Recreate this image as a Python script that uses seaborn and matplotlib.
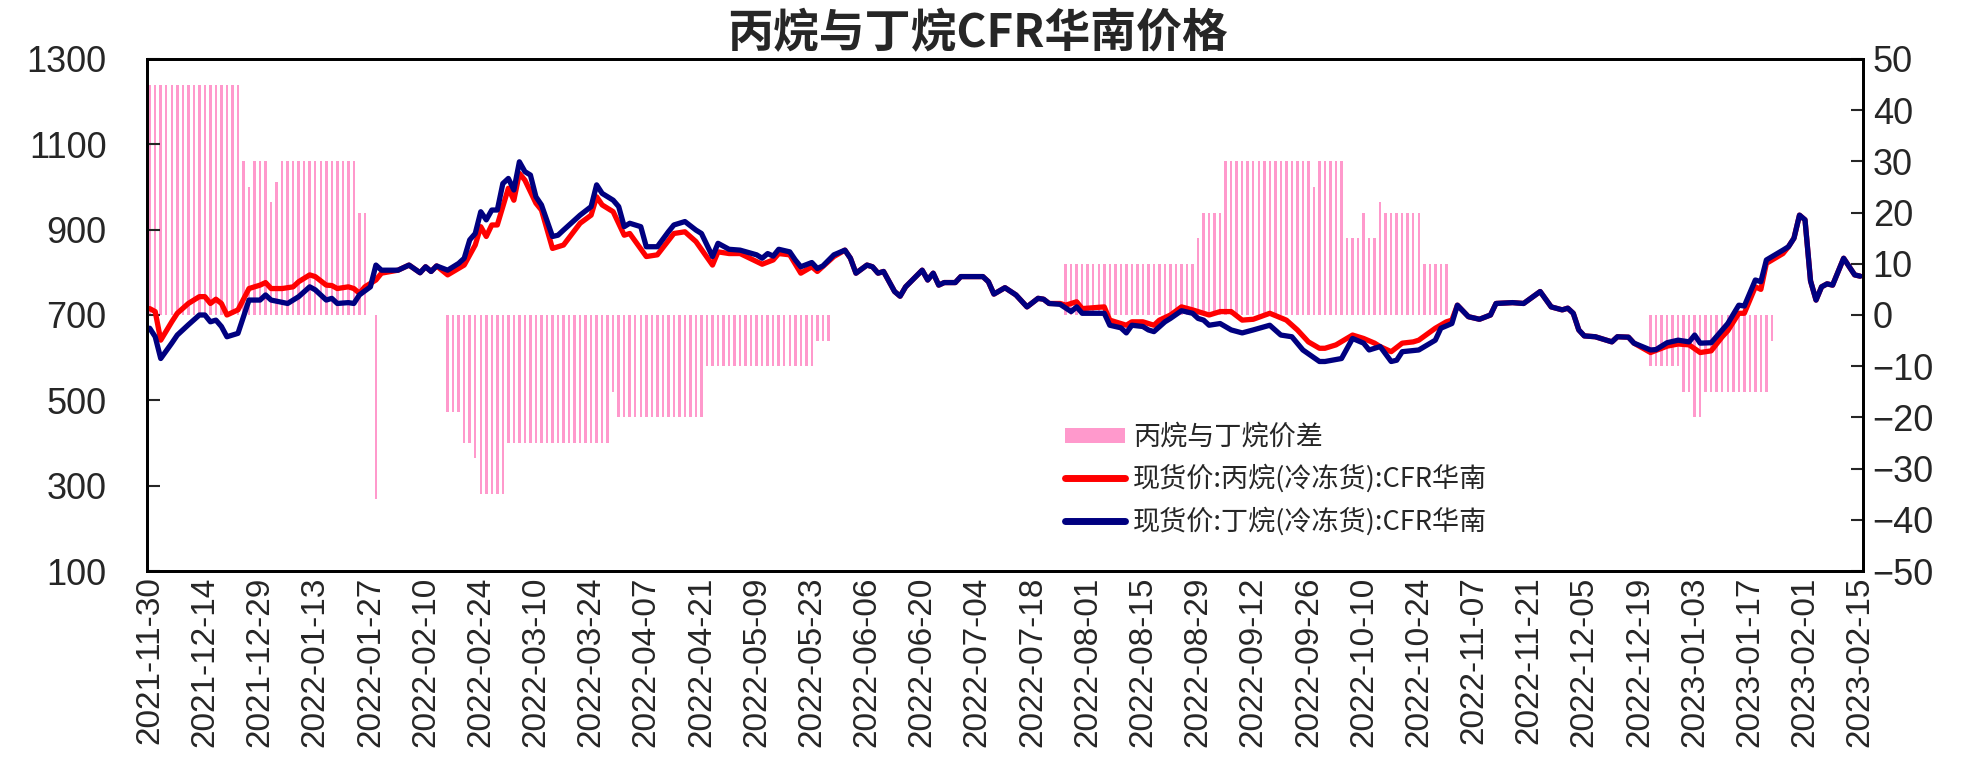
import numpy as np
import pandas as pd
import matplotlib.pyplot as plt
import seaborn as sns
from matplotlib.patches import Patch
from matplotlib.lines import Line2D

# x axis = trading day number (0 = 2021-11-30, 310 = 2023-02-15), one label every 10 days
tick_labels = ['2021-11-30', '2021-12-14', '2021-12-29', '2022-01-13', '2022-01-27',
               '2022-02-10', '2022-02-24', '2022-03-10', '2022-03-24', '2022-04-07',
               '2022-04-21', '2022-05-09', '2022-05-23', '2022-06-06', '2022-06-20',
               '2022-07-04', '2022-07-18', '2022-08-01', '2022-08-15', '2022-08-29',
               '2022-09-12', '2022-09-26', '2022-10-10', '2022-10-24', '2022-11-07',
               '2022-11-21', '2022-12-05', '2022-12-19', '2023-01-03', '2023-01-17',
               '2023-02-01', '2023-02-15']

# spread (propane - butane), right axis: level and number of trading days it holds
spread_level = [45, 30, 25, 30, 22, 26, 30, 20, 0, -36, 0, -19, -25, -28, -35, -25, -15, -20,
                -10, -5, 0, 10, 15, 20, 30, 25, 30, 15, 20, 15, 22, 20, 10, 0, -10, -15, -20,
                -15, -5, 0]
spread_days = [17, 1, 1, 3, 1, 1, 14, 2, 1, 1, 12, 3, 2, 1, 5, 19, 1, 16,
               20, 3, 42, 24, 1, 4, 16, 1, 5, 3, 1, 2, 1, 7, 5, 36, 6, 2, 2,
               12, 1, 16]

# butane CFR South China (left axis)
c4_day = [0, 1, 2, 4, 5, 7, 9, 10, 11, 12, 13, 14, 16, 18, 20, 21, 22, 25, 27, 29, 30, 32, 33,
          34, 36, 37, 38, 40, 41, 42, 45, 47, 49, 50, 51, 52, 54, 56, 57, 58, 59, 60, 61, 62,
          63, 64, 65, 66, 67, 68, 69, 70, 71, 73, 74, 75, 78, 80, 81, 82, 84, 85, 86, 87, 89,
          90, 92, 94, 95, 97, 99, 100, 102, 103, 105, 107, 110, 111, 112, 113, 114, 116, 117,
          118, 120, 121, 122, 124, 126, 127, 128, 130, 131, 132, 133, 135, 136, 137, 140, 141,
          142, 143, 144, 146, 147, 151, 152, 153, 155, 157, 159, 161, 162, 163, 165, 167, 168,
          169, 173, 174, 176, 177, 178, 180, 181, 182, 184, 185, 187, 189, 190, 191, 192, 194,
          196, 198, 200, 203, 205, 207, 209, 212, 213, 216, 218, 220, 221, 223, 225, 226, 227,
          230, 233, 234, 236, 237, 239, 241, 243, 244, 247, 249, 252, 254, 256, 257, 258, 259,
          260, 262, 265, 266, 268, 269, 272, 273, 275, 277, 279, 280, 281, 283, 285, 286, 288,
          289, 291, 292, 293, 296, 297, 298, 299, 300, 301, 302, 303, 304, 305, 307, 309, 310]
c4_price = [669, 649, 598, 634, 653, 677, 700, 700, 684, 688, 673, 649, 657, 735, 735, 747, 735,
            727, 743, 766, 759, 735, 739, 727, 729, 727, 747, 766, 817, 805, 805, 817, 799, 813,
            802, 815, 805, 821, 833, 876, 891, 942, 923, 946, 946, 1008, 1020, 993, 1059, 1036,
            1028, 977, 958, 884, 887, 899, 934, 954, 1005, 985, 969, 954, 907, 915, 907, 860,
            860, 895, 911, 919, 899, 891, 837, 868, 854, 852, 841, 833, 844, 838, 854, 848, 829,
            813, 823, 809, 815, 841, 852, 833, 798, 817, 813, 798, 802, 755, 744, 766, 805, 782,
            798, 770, 776, 776, 790, 790, 778, 749, 764, 747, 719, 739, 737, 727, 725, 708, 719,
            704, 704, 676, 670, 658, 676, 673, 665, 661, 684, 692, 710, 704, 692, 688, 676, 680,
            665, 658, 665, 676, 653, 649, 618, 591, 591, 598, 645, 634, 618, 626, 591, 594, 614,
            618, 641, 669, 680, 723, 696, 690, 700, 727, 729, 727, 755, 719, 712, 716, 704, 665,
            651, 649, 637, 649, 648, 634, 618, 619, 635, 641, 637, 653, 634, 635, 665, 680, 723,
            721, 782, 778, 829, 852, 860, 880, 934, 923, 780, 735, 766, 773, 770, 833, 794, 791]

# propane CFR South China (left axis)
c3_day = [0, 1, 2, 4, 5, 7, 9, 10, 11, 12, 13, 14, 16, 18, 20, 21, 22, 24, 26, 27, 29, 30, 32,
          33, 34, 36, 37, 38, 39, 41, 42, 45, 47, 49, 50, 51, 52, 54, 57, 59, 60, 61, 62, 63,
          65, 66, 67, 68, 70, 71, 73, 74, 75, 78, 80, 81, 82, 84, 86, 87, 90, 92, 95, 97, 99,
          102, 103, 105, 107, 111, 113, 114, 116, 118, 120, 121, 124, 126, 127, 128, 130, 131,
          132, 133, 135, 136, 137, 140, 141, 142, 143, 144, 146, 147, 151, 152, 153, 155, 157,
          159, 161, 162, 163, 165, 166, 168, 169, 173, 174, 176, 177, 178, 180, 182, 183, 185,
          187, 189, 191, 192, 194, 196, 198, 200, 203, 206, 208, 210, 212, 213, 215, 218, 220,
          222, 223, 225, 227, 229, 230, 233, 235, 236, 237, 239, 241, 243, 244, 247, 249, 252,
          254, 256, 257, 258, 259, 260, 262, 265, 266, 268, 269, 272, 275, 277, 279, 281, 283,
          285, 286, 288, 289, 291, 292, 293, 296, 297, 298, 299, 300, 301, 302, 303, 304, 305,
          307, 309, 310]
c3_price = [715, 708, 641, 684, 704, 727, 743, 743, 727, 737, 727, 700, 712, 762, 770, 776, 762,
            762, 766, 778, 794, 790, 770, 769, 762, 766, 762, 751, 766, 782, 798, 805, 817, 799,
            813, 802, 815, 794, 817, 864, 907, 884, 911, 911, 997, 969, 1032, 1016, 962, 946,
            856, 860, 864, 915, 934, 977, 958, 942, 887, 891, 837, 841, 891, 895, 872, 817, 848,
            844, 844, 819, 829, 844, 841, 798, 813, 802, 837, 852, 833, 798, 817, 813, 798, 802,
            755, 744, 766, 805, 782, 798, 770, 776, 776, 790, 790, 778, 749, 764, 747, 719, 739,
            737, 727, 727, 723, 731, 715, 719, 688, 680, 676, 684, 684, 676, 688, 700, 719, 712,
            704, 700, 708, 708, 688, 690, 704, 688, 665, 637, 622, 622, 630, 653, 645, 634, 626,
            614, 634, 637, 641, 669, 684, 688, 723, 696, 690, 700, 727, 729, 727, 755, 719, 712,
            716, 704, 665, 651, 649, 637, 649, 648, 634, 612, 627, 632, 630, 612, 616, 649, 663,
            704, 704, 766, 760, 821, 844, 860, 880, 934, 923, 780, 735, 766, 773, 770, 833, 794,
            791]

spread = pd.DataFrame({'day': np.arange(sum(spread_days)),
                       'spread': np.repeat(spread_level, spread_days)})

sns.set_style('ticks')
plt.rcParams['font.family'] = ['Liberation Sans', 'Noto Sans CJK SC']

pink = '#FF99CC'
navy = '#000080'

fig = plt.figure(figsize=(19.67, 7.68), dpi=100)
ax = fig.add_axes([0.0747, 0.2565, 0.8724, 0.6667])

# bars on the base axes (right scale), lines on the twin so they sit on top
sns.barplot(data=spread, x='day', y='spread', native_scale=True, width=0.45,
            color=pink, saturation=1, linewidth=0, errorbar=None, ax=ax)
ax.set_ylim(-50, 50)
ax.set_yticks(range(-50, 51, 10))

ax2 = ax.twinx()
sns.lineplot(x=c3_day, y=c3_price, color='red', linewidth=3.8, ax=ax2)
sns.lineplot(x=c4_day, y=c4_price, color=navy, linewidth=3.8, ax=ax2)
ax2.set_ylim(100, 1300)
ax2.set_yticks(range(100, 1301, 200))

# twinx puts the base ticks on the left, swap them
ax.yaxis.tick_right()
ax2.yaxis.tick_left()

ax.set_xlim(-0.5, 310.5)
ax.set_xticks(np.arange(0, 311, 10))
ax.set_xticklabels(tick_labels, rotation=90, fontsize=24)
ax.set_xlabel('')
ax.set_ylabel('')
ax2.set_ylabel('')
ax.tick_params(axis='x', length=0, pad=4)
ax.tick_params(axis='y', direction='in', length=9, width=1.5, labelsize=26, pad=7)
ax2.tick_params(axis='y', direction='in', length=9, width=1.5, labelsize=26, pad=29)

for a in (ax, ax2):
    for s in a.spines.values():
        s.set_visible(True)
        s.set_linewidth(2)
        s.set_color('black')

handles = [Patch(facecolor=pink, edgecolor='none'),
           Line2D([], [], color='red', linewidth=5),
           Line2D([], [], color=navy, linewidth=5)]
labels = ['丙烷与丁烷价差', '现货价:丙烷(冷冻货):CFR华南', '现货价:丁烷(冷冻货):CFR华南']
ax2.legend(handles, labels, loc='upper left', bbox_to_anchor=(0.521, 0.335),
           frameon=False, prop={'family': 'Noto Sans CJK SC', 'size': 19.5},
           handlelength=2.2, handleheight=0.5, handletextpad=0.3, labelspacing=0.5)

fig.text(0.497, 0.955, '丙烷与丁烷CFR华南价格', ha='center', va='center',
         fontsize=33, fontweight='bold', family='Noto Sans CJK SC')

fig.savefig('out.png', dpi=100)
